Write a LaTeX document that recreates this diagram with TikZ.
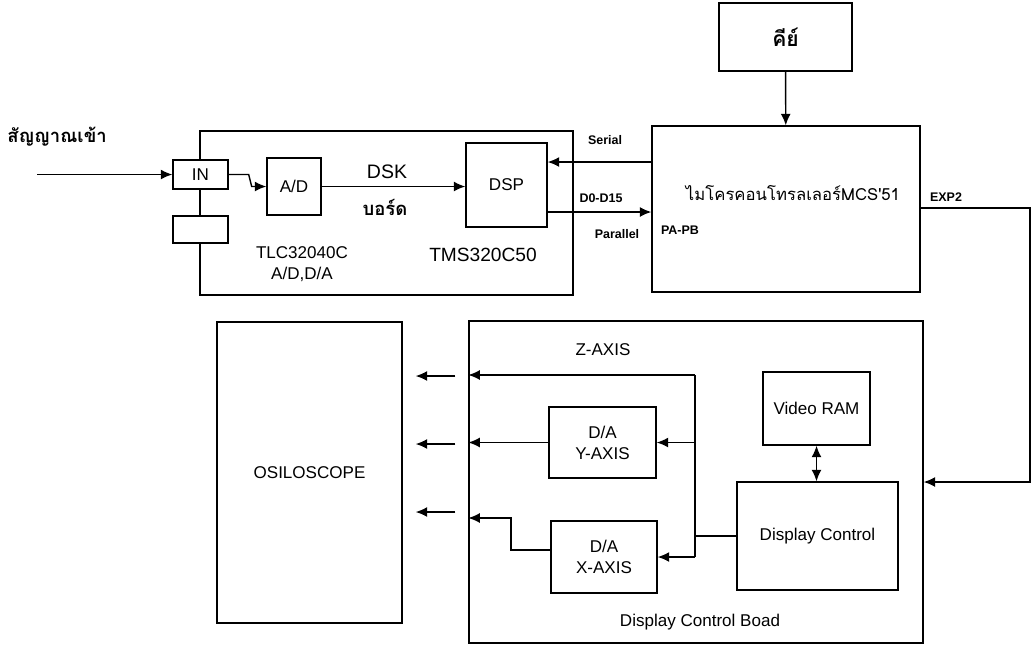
\documentclass[tikz,border=0pt]{standalone}
\usepackage{fontspec}
\setmainfont{Liberation Sans}
\newfontfamily\thaifont[Script=Thai]{Loma}
\usetikzlibrary{arrows.meta,positioning}

\begin{document}
\begin{tikzpicture}[x=0.02cm, y=-0.02cm,
    blk/.style={draw, line width=0.8pt, fill=white, inner sep=1pt, align=center,
                font=\fontsize{9.7}{12}\selectfont},
    arr/.style={-{Latex[length=2.3mm,width=2mm]}, line width=0.8pt},
    darr/.style={{Latex[length=2.3mm,width=2mm]}-{Latex[length=2.3mm,width=2mm]}, line width=0.8pt},
    lbl/.style={font=\fontsize{9.7}{12}\selectfont, align=center},
    tag/.style={font=\bfseries\fontsize{7.1}{8}\selectfont},
    thai/.style={font=\thaifont\fontsize{#1}{#1}\selectfont},
    thaib/.style={font=\thaifont\bfseries\fontsize{#1}{#1}\selectfont}
  ]
  \useasboundingbox (0,0) rectangle (1032,647);

  % DSK board
  \node[blk, minimum width=7.46cm, minimum height=3.28cm] (dskboard) at (386.5,213) {};
  \node[blk, minimum width=1.10cm, minimum height=0.58cm] (in)    at (200.5,174.5) {IN};
  \node[blk, minimum width=1.10cm, minimum height=0.54cm] (blank) at (200.5,229.5) {};
  \node[blk, minimum width=1.08cm, minimum height=1.14cm] (ad)    at (294,186.5) {A/D};
  \node[blk, minimum width=1.62cm, minimum height=1.68cm] (dsp)   at (506.5,185) {DSP};

  \node[thaib=10.5] (sig) at (57,137) {สัญญาณเข้า};
  \node[lbl, font=\fontsize{11.1}{13}\selectfont] (dsk) at (387,172) {DSK};
  \node[thaib=10.5] (board) at (385,207) {บอร์ด};
  \node[lbl] (tlc) at (302,264) {TLC32040C\\A/D,D/A};
  \node[lbl, font=\fontsize{10.9}{13}\selectfont] (tms) at (483,255) {TMS320C50};

  % microcontroller and key
  \node[blk, minimum width=2.66cm, minimum height=1.36cm] (key) at (785.5,37)
       {\thaifont\bfseries\fontsize{12}{14}\selectfont คีย์};
  \node[blk, minimum width=5.36cm, minimum height=3.32cm] (mcs) at (786,209) {};
  \node[thai=9.5] (mcstext) at (793,193) {ไมโครคอนโทรลเลอร์MCS'51};

  \node[tag] (serial)   at (605,140) {Serial};
  \node[tag] (d0)       at (601,198) {D0-D15};
  \node[tag] (parallel) at (617,234) {Parallel};
  \node[tag] (papb)     at (680,230) {PA-PB};
  \node[tag] (exp2)     at (946,197) {EXP2};

  % oscilloscope and display board
  \node[blk, minimum width=3.70cm, minimum height=6.02cm] (osc) at (309.5,472.5) {OSILOSCOPE};
  \node[blk, minimum width=9.08cm, minimum height=6.44cm] (dispboard) at (696,482) {};
  \node[blk, minimum width=2.14cm, minimum height=1.42cm] (day)  at (602.5,442.5) {D/A\\Y-AXIS};
  \node[blk, minimum width=2.12cm, minimum height=1.44cm] (dax)  at (604,557) {D/A\\X-AXIS};
  \node[blk, minimum width=2.14cm, minimum height=1.46cm] (vram) at (816.5,408.5) {Video RAM};
  \node[blk, minimum width=3.22cm, minimum height=2.16cm] (dctl) at (817.5,536) {Display Control};
  \node[lbl] (zaxis) at (603,350) {Z-AXIS};
  \node[lbl] (boad)  at (700,622) {Display Control Boad};

  \coordinate (src) at (37,174.5);
  \coordinate (exp) at (1030,208);
  \coordinate (bus) at (695,375);
  \coordinate (xk)  at (511,518);

  % connectors
  \draw[arr] (src) -- (in.west);
  \draw[arr] (in.east) -- ++(20,0) -- ++(3,12) -- (ad.west);
  \draw[arr] (ad.east) -- (ad.east -| dsp.west);
  \draw[arr] (mcs.west |- 0,162) -- (dsp.east |- 0,162);
  \draw[arr] (dsp.east |- 0,212) -- (mcs.west |- 0,212);
  \draw[arr] (key) -- (mcs);
  \draw[arr] (mcs.east |- exp) -- (exp) |- (dispboard.east);

  \draw[arr] (bus) -- (bus -| dispboard.west);
  \draw[line width=0.8pt] (bus) -- (bus |- dax);
  \draw[arr] (bus |- day) -- (day.east);
  \draw[arr] (bus |- dax) -- (dax.east);
  \draw[line width=0.8pt] (dctl.west) -- (dctl.west -| bus);
  \draw[arr] (day.west) -- (day.west -| dispboard.west);
  \draw[arr] (dax.west |- 0,550) -| (xk) -- (xk -| dispboard.west);
  \draw[darr] (vram.south) -- (vram.south |- dctl.north);

  \foreach \y in {376,444,512}
    \draw[arr] ([xshift=-0.26cm]dispboard.west |- 0,\y) -- ([xshift=0.26cm]osc.east |- 0,\y);
\end{tikzpicture}
\end{document}
